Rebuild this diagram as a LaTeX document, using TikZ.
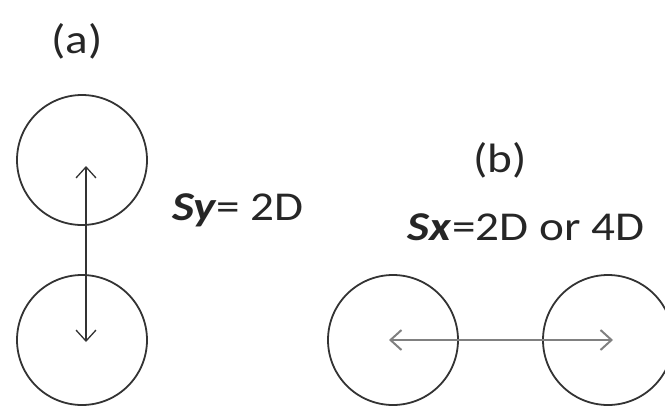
\documentclass[tikz,border=0pt]{standalone}
\usepackage{fontspec}
\setmainfont{Carlito}
\usetikzlibrary{arrows.meta}
\begin{document}
\begin{tikzpicture}[x=1pt,y=-1pt,
  ball/.style={circle,draw=black!80,line width=1.8pt,minimum size=130pt,inner sep=0pt},
  lbl/.style={inner sep=0pt,anchor=base,xscale=1.15,font=\fontsize{41}{48}\selectfont,text=black!85},
  dbl/.style={{Straight Barb[length=11pt,width=20pt]}-{Straight Barb[length=11pt,width=20pt]}}]
\useasboundingbox (0,0) rectangle (665,407);
\node[lbl] (la) at (77,53) {(a)};
\node[ball] (a1) at (82,160) {};
\node[ball] (a2) at (82,340) {};
\coordinate (at) at (86,166);
\coordinate (ab) at (86,342);
\draw[dbl,black!80,line width=1.3pt] (at) -- (ab);
\node[lbl] (sy) at (238,220) {\textbf{\textit{Sy}}= 2D};
\node[lbl] (lb) at (500,172) {(b)};
\node[lbl] (sx) at (526,240) {\textbf{\textit{Sx}}=2D or 4D};
\node[ball] (b1) at (393,340) {};
\node[ball] (b2) at (608,340) {};
\coordinate (bl) at (389,340);
\coordinate (br) at (613,340);
\draw[dbl,black!50,line width=2pt] (bl) -- (br);
\end{tikzpicture}
\end{document}
